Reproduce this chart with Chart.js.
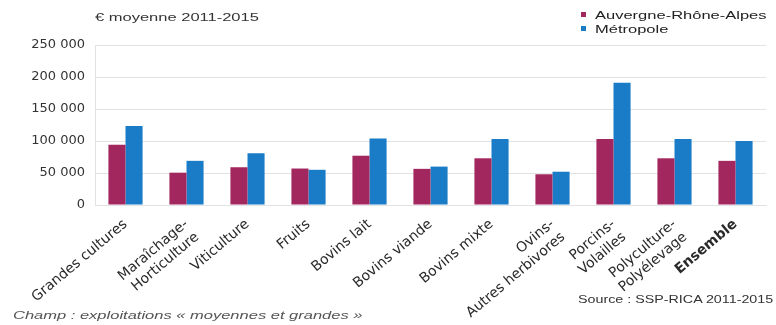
<!DOCTYPE html>
<html lang="fr">
<head>
<meta charset="utf-8">
<script src="https://cdn.jsdelivr.net/npm/chart.js@4/dist/chart.umd.min.js"></script>
<style>
  body { margin: 0; background: #fff; font-family: "Liberation Sans", Arial, sans-serif; color: #333; }
  #wrap { position: relative; width: 776px; height: 325px; }
  #chart { position: absolute; left: 0; top: 0; }
  .txt { position: absolute; font-size: 11px; white-space: nowrap; }
  .wide { display: inline-block; transform-origin: left center; }
  #unit { left: 95px; top: 11px; }
  #unit .wide { transform: scaleX(1.5); }
  #legend { left: 581px; top: 8px; line-height: 14px; color: #222; }
  #legend .wide { transform: scaleX(1.5); }
  #legend span.sw { display: inline-block; width: 5px; height: 5px; margin-right: 9px; vertical-align: 2px; }
  #champ { left: 13px; top: 309px; font-style: italic; color: #555; }
  #champ .wide { transform: scaleX(1.5); }
  #source { right: 3px; top: 293px; }
  #source .wide { transform: scaleX(1.3); transform-origin: right center; }
</style>
</head>
<body>
<div id="wrap">
  <canvas id="chart" width="776" height="325"></canvas>
  <div class="txt" id="unit"><span class="wide">€ moyenne 2011-2015</span></div>
  <div class="txt" id="legend"></div>
  <div class="txt" id="champ"><span class="wide">Champ : exploitations « moyennes et grandes »</span></div>
  <div class="txt" id="source"><span class="wide">Source : SSP-RICA 2011-2015</span></div>
</div>
<script>
const categories = [
    "Grandes cultures",
    ["Maraîchage-", "Horticulture"],
    "Viticulture",
    "Fruits",
    "Bovins lait",
    "Bovins viande",
    "Bovins mixte",
    ["Ovins-", "Autres herbivores"],
    ["Porcins-", "Volailles"],
    ["Polyculture-", "Polyélevage"],
    "Ensemble"
];
const auraValues = [94000, 50500, 59000, 57000, 77000, 56500, 73000, 48000, 103000, 73000, 69000];
const metroValues = [123500, 69000, 81000, 55000, 104000, 60000, 103000, 52000, 191000, 103000, 100000];
const seriesNames = ["Auvergne-Rhône-Alpes", "Métropole"];
const seriesColors = ["#a2275f", "#1a7cc7"];
const yTicks = [0, 50000, 100000, 150000, 200000, 250000];

// simple legend in the top right corner
document.getElementById("legend").innerHTML = seriesNames.map((n, i) =>
    '<div><span class="sw" style="background:' + seriesColors[i] + '"></span><span class="wide">' + n + '</span></div>'
).join("");

function fmt(v) {
    return String(v).replace(/\B(?=(\d{3})+(?!\d))/g, " ");
}

const ctx = document.getElementById("chart").getContext("2d");
new Chart(ctx, {
    type: "bar",
    data: {
        labels: categories,
        datasets: [{
            label: seriesNames[0],
            backgroundColor: seriesColors[0],
            data: auraValues
        }, {
            label: seriesNames[1],
            backgroundColor: seriesColors[1],
            data: metroValues
        }]
    },
    options: {
        responsive: false,
        animation: false,
        layout: { padding: { top: 45, right: 10, bottom: 0, left: 1 } },
        categoryPercentage: 0.56,
        barPercentage: 1.0,
        plugins: {
            legend: { display: false },
            tooltip: { enabled: false }
        },
        scales: {
            x: {
                grid: { display: false },
                border: { color: "#e2e2e2" },
                // fixed tilt for the category labels
                afterCalculateLabelRotation: s => { s.labelRotation = 40; },
                // tall box so the tilted labels are not clipped
                afterFit: s => { s.height = 120; },
                ticks: {
                    autoSkip: false,
                    maxRotation: 40,
                    minRotation: 40,
                    color: "#2a2a2a",
                    font: c => ({
                        family: "'DejaVu Sans', sans-serif",
                        size: 14,
                        weight: c.index === 10 ? "bold" : "normal"
                    })
                }
            },
            y: {
                min: 0,
                max: 250000,
                afterFit: s => { s.width = 94; },
                afterBuildTicks: s => { s.ticks = yTicks.map(v => ({ value: v })); },
                grid: { color: "#e2e2e2", drawTicks: false },
                border: { color: "#e2e2e2" },
                ticks: {
                    padding: 10,
                    color: "#333",
                    font: { family: "'DejaVu Sans', sans-serif", size: 13 },
                    callback: v => fmt(v)
                }
            }
        }
    }
});
</script>
</body>
</html>
